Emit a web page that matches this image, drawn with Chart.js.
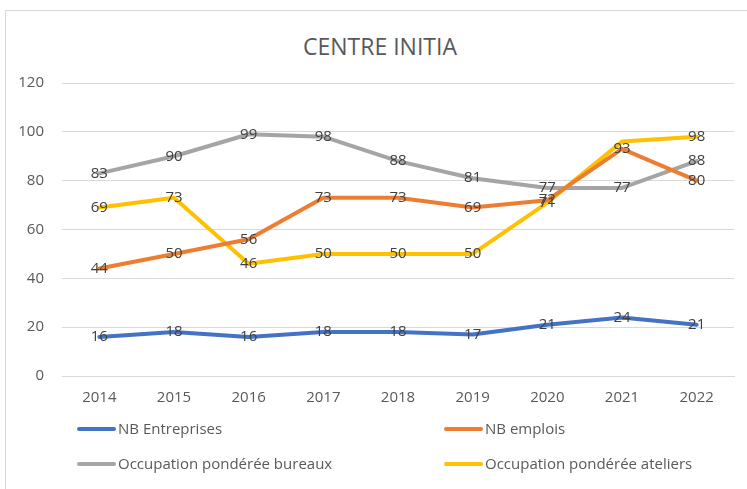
<!DOCTYPE html>
<html>
<head>
<meta charset="utf-8">
<script src="https://cdn.jsdelivr.net/npm/chart.js@4.4.1/dist/chart.umd.min.js"></script>
<style>
  html, body { margin: 0; padding: 0; background: #fff; }
  body { width: 747px; height: 489px; position: relative; overflow: hidden;
         font-family: 'Open Sans', sans-serif; color: #595959; }
  #frame { position: absolute; left: 5px; top: 10px; width: 745px; height: 485px;
           border: 1px solid #d9d9d9; box-sizing: border-box; }
  #title { position: absolute; left: 0; width: 760px; top: 30px; text-align: center;
           font-size: 23px; color: #595959; }
  #wrap { position: absolute; left: 0; top: 0; width: 747px; height: 489px; }
  .leg { position: absolute; font-size: 15px; color: #595959; line-height: 20px; white-space: nowrap; }
  .leg span { display: inline-block; width: 39px; height: 4px; border-radius: 2px;
              vertical-align: middle; margin-right: 2px; position: relative; top: -1px; }
</style>
</head>
<body>
<div id="frame"></div>
<div id="title">CENTRE INITIA</div>
<div id="wrap"><canvas id="chart" width="747" height="489"></canvas></div>
<div id="legend"></div>
<script>
// Categories and series
const years = ['2014', '2015', '2016', '2017', '2018', '2019', '2020', '2021', '2022'];
const nbEntreprises = [16, 18, 16, 18, 18, 17, 21, 24, 21];
const nbEmplois = [44, 50, 56, 73, 73, 69, 72, 93, 80];
const occBureaux = [83, 90, 99, 98, 88, 81, 77, 77, 88];
const occAteliers = [69, 73, 46, 50, 50, 50, 71, 96, 98];
const yTicks = [0, 20, 40, 60, 80, 100, 120];

const seriesNames = ['NB Entreprises', 'NB emplois', 'Occupation pondérée bureaux', 'Occupation pondérée ateliers'];
const seriesColors = ['#4472C4', '#ED7D31', '#A5A5A5', '#FFC000'];
// label indexes not shown on the picture
const hiddenLabels = [[], [], [], [7]];

const fontFamily = "'Open Sans', sans-serif";

// Draw value labels centered on each point
const valueLabels = {
    id: 'valueLabels',
    afterDatasetsDraw(chart) {
        const ctx = chart.ctx;
        ctx.save();
        ctx.font = '15px ' + fontFamily;
        ctx.fillStyle = '#404040';
        ctx.textAlign = 'center';
        ctx.textBaseline = 'middle';
        chart.data.datasets.forEach((ds, i) => {
            chart.getDatasetMeta(i).data.forEach((pt, j) => {
                if (hiddenLabels[i].includes(j)) return;
                ctx.fillText(ds.data[j], pt.x, pt.y);
            });
        });
        ctx.restore();
    }
};

const datasets = [nbEntreprises, nbEmplois, occBureaux, occAteliers].map((d, i) => ({
    label: seriesNames[i],
    data: d,
    borderColor: seriesColors[i],
    backgroundColor: seriesColors[i],
    borderWidth: 4,
    pointRadius: 0,
    tension: 0,
    borderCapStyle: 'round',
    borderJoinStyle: 'round'
}));

new Chart(document.getElementById('chart'), {
    type: 'line',
    data: { labels: years, datasets },
    options: {
        responsive: false,
        animation: false,
        layout: { padding: { left: 10, right: 13, top: 83, bottom: 0 } },
        plugins: { legend: { display: false }, title: { display: false }, tooltip: { enabled: false } },
        scales: {
            x: {
                offset: true,
                grid: { display: false, drawTicks: false },
                border: { display: true, color: '#d9d9d9', width: 1 },
                ticks: { color: '#595959', padding: 13, font: { size: 15, family: fontFamily } },
                afterFit(s) { s.height = 113; }
            },
            y: {
                min: 0,
                max: 120,
                afterBuildTicks(s) { s.ticks = yTicks.map(v => ({ value: v })); },
                grid: { color: '#d9d9d9', drawTicks: false },
                border: { display: false },
                ticks: { color: '#595959', padding: 18, font: { size: 15, family: fontFamily } },
                afterFit(s) { s.width = 52; }
            }
        }
    },
    plugins: [valueLabels]
});

// Two-column legend under the chart
const legendPos = [[77, 418], [444, 418], [77, 453], [444, 453]];
const legend = document.getElementById('legend');
seriesNames.forEach((name, i) => {
    const el = document.createElement('div');
    el.className = 'leg';
    el.style.left = legendPos[i][0] + 'px';
    el.style.top = legendPos[i][1] + 'px';
    el.innerHTML = `<span style="background:${seriesColors[i]}"></span>${name}`;
    legend.appendChild(el);
});
</script>
</body>
</html>
